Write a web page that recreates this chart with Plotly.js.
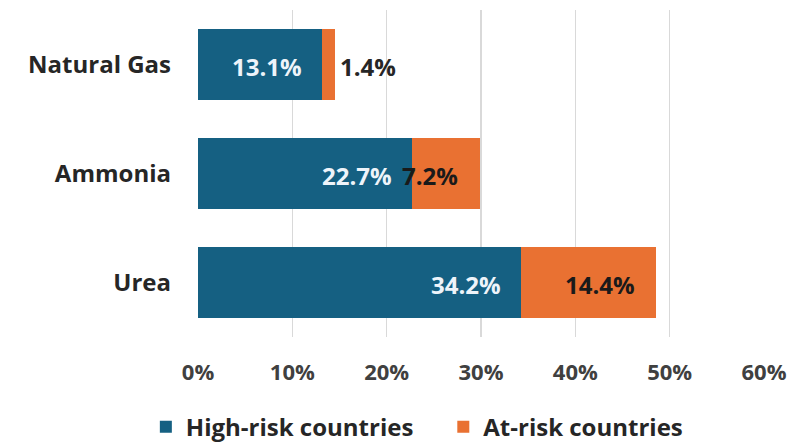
<!DOCTYPE html>
<html>
<head>
<meta charset="utf-8">
<script src="https://cdn.plot.ly/plotly-3.0.1.min.js"></script>
<style>html,body{margin:0;padding:0;background:#fff;}#chart{width:794px;height:445px;}</style>
</head>
<body>
<div id="chart"></div>
<script>
const categories = ["Natural Gas", "Ammonia", "Urea"];
const highRisk = [13.1, 22.7, 34.2];
const atRisk = [1.4, 7.2, 14.4];
const tickValues = [0, 10, 20, 30, 40, 50, 60];
const tickLabels = ["0%", "10%", "20%", "30%", "40%", "50%", "60%"];
const seriesNames = ["High-risk countries", "At-risk countries"];

const FONT = "Open Sans, Liberation Sans, Arial, sans-serif";
const BLUE = "#156082";
const ORANGE = "#E97132";
const NB = "\u00a0\u00a0\u00a0\u00a0";

const traces = [
  {
    type: "bar", orientation: "h", name: seriesNames[0] + NB,
    y: categories, x: highRisk,
    marker: {color: BLUE}, hoverinfo: "skip"
  },
  {
    type: "bar", orientation: "h", name: seriesNames[1],
    y: categories, x: atRisk,
    marker: {color: ORANGE}, hoverinfo: "skip"
  }
];

const annotations = [];
categories.forEach((c, i) => {
  annotations.push({
    x: highRisk[i], y: c, xref: "x", yref: "y",
    text: highRisk[i].toFixed(1) + "%", showarrow: false,
    xanchor: "right", xshift: -18, yshift: -2,
    font: {family: FONT, size: 24, color: "#EEF4FA", weight: 700}
  });
  const outside = atRisk[i] < 3;
  const shifts = [0, -16, 11];
  annotations.push({
    x: outside ? highRisk[i] + atRisk[i] : highRisk[i] + atRisk[i] / 2,
    y: c, xref: "x", yref: "y",
    text: atRisk[i].toFixed(1) + "%", showarrow: false,
    xanchor: outside ? "left" : "center", xshift: outside ? 3 : shifts[i], yshift: -2,
    font: {family: FONT, size: 24, color: outside ? "#262626" : "#1a1a1a", weight: 700}
  });
});

const layout = {
  width: 794, height: 445,
  margin: {l: 198, r: 30, t: 10, b: 108},
  paper_bgcolor: "#ffffff", plot_bgcolor: "#ffffff",
  barmode: "stack", bargap: 0.34,
  font: {family: FONT, size: 22, color: "#262626", weight: 700},
  xaxis: {
    range: [0, 60], tickvals: tickValues, ticktext: tickLabels,
    showgrid: true, gridcolor: "#d9d9d9", gridwidth: 1.5,
    zeroline: false, showline: false, ticks: "",
    ticklabelstandoff: 20,
    tickfont: {family: FONT, size: 22, color: "#404040", weight: 700},
    fixedrange: true
  },
  yaxis: {
    autorange: "reversed", type: "category",
    showgrid: false, zeroline: false, showline: false, ticks: "",
    ticklabelstandoff: 26,
    tickfont: {family: FONT, size: 24, color: "#262626", weight: 700},
    fixedrange: true
  },
  showlegend: true,
  legend: {
    orientation: "h", xref: "container", yref: "container",
    x: 0.525, xanchor: "center", y: 0.04, yanchor: "middle",
    font: {family: FONT, size: 24, color: "#262626", weight: 700},
    itemwidth: 30,
    traceorder: "normal", itemclick: false, itemdoubleclick: false
  },
  annotations: annotations
};

Plotly.newPlot("chart", traces, layout, {displayModeBar: false, staticPlot: true});
</script>
</body>
</html>
